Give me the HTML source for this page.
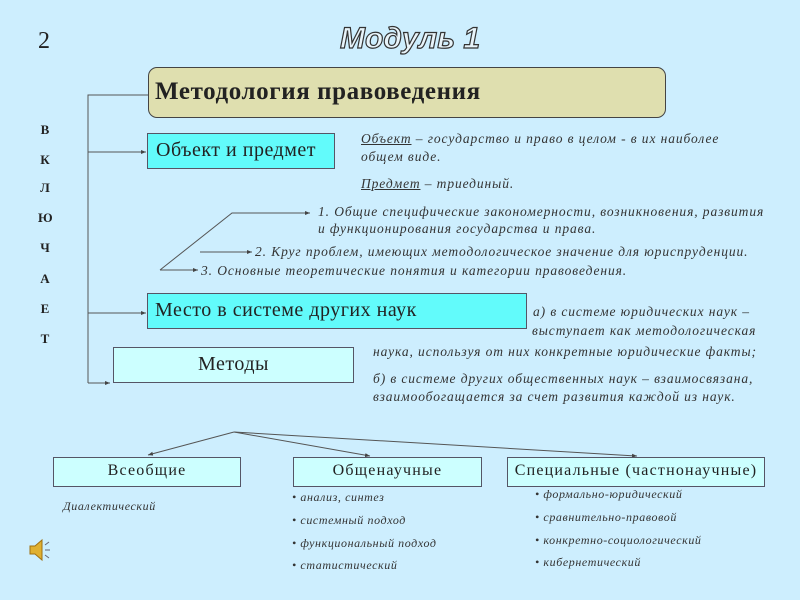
<!DOCTYPE html>
<html><head><meta charset="utf-8"><style>
body{margin:0;width:800px;height:600px;background:#cdeefe;position:relative;overflow:hidden;font-family:"Liberation Serif",serif;color:#222}
.a{position:absolute;white-space:nowrap}
.i{font-style:italic;font-size:13.5px;letter-spacing:0.9px;color:#333}
.s{font-size:12px;letter-spacing:0.6px}
.box{position:absolute;border:1px solid #556;box-sizing:border-box}
.let{position:absolute;left:38px;font-weight:bold;font-size:13px;width:14px;text-align:center}
.h{font-size:20px;letter-spacing:0.5px}
.b{font-size:16px;letter-spacing:1.2px}
</style></head><body>
<div class="a" style="left:38px;top:28px;font-size:24px">2</div>
<div class="a" style="left:340px;top:22px;font-family:'Liberation Sans',sans-serif;font-size:30px;font-weight:bold;font-style:italic;color:#e8f4fa;-webkit-text-stroke:1.2px #333">Модуль 1</div>
<div class="box" style="left:148px;top:67px;width:518px;height:51px;background:#dfdfaf;border-radius:9px;border-color:#444"></div>
<div class="a" style="left:155px;top:78px;font-size:25px;letter-spacing:0.6px;font-weight:bold">Методология правоведения</div>
<svg class="a" style="left:0;top:0" width="800" height="600">
<defs><marker id="m" markerWidth="6" markerHeight="6" refX="5" refY="3" orient="auto"><path d="M0,1 L5,3 L0,5z" fill="#444"/></marker></defs>
<g stroke="#555" stroke-width="1" fill="none">
<path d="M148,95 H88 V383"/>
<path d="M88,152 H146" marker-end="url(#m)"/>
<path d="M88,313 H146" marker-end="url(#m)"/>
<path d="M88,383 H110" marker-end="url(#m)"/>
<path d="M160,270 L232,213 H310" marker-end="url(#m)"/>
<path d="M200,252 H252" marker-end="url(#m)"/>
<path d="M160,270 H198" marker-end="url(#m)"/>
<path d="M234,432 L148,455" marker-end="url(#m)"/>
<path d="M234,432 L370,456" marker-end="url(#m)"/>
<path d="M234,432 L637,456" marker-end="url(#m)"/>
</g></svg>
<div class="let" style="top:122px">В</div><div class="let" style="top:152px">К</div><div class="let" style="top:180px">Л</div><div class="let" style="top:210px">Ю</div><div class="let" style="top:240px">Ч</div><div class="let" style="top:271px">А</div><div class="let" style="top:301px">Е</div><div class="let" style="top:331px">Т</div>
<div class="box" style="left:147px;top:133px;width:188px;height:36px;background:#62fbfb"></div>
<div class="a h" style="left:156px;top:139px">Объект и предмет</div>
<div class="a i" style="left:361px;top:131px"><u>Объект</u> – государство и право в целом - в их наиболее</div>
<div class="a i" style="left:361px;top:149px">общем виде.</div>
<div class="a i" style="left:361px;top:176px"><u>Предмет</u> – триединый.</div>
<div class="a i" style="left:318px;top:204px">1. Общие специфические закономерности, возникновения, развития</div>
<div class="a i" style="left:318px;top:221px">и функционирования государства и права.</div>
<div class="a i" style="left:255px;top:244px">2. Круг проблем, имеющих методологическое значение для юриспруденции.</div>
<div class="a i" style="left:201px;top:263px">3. Основные теоретические понятия и категории правоведения.</div>
<div class="box" style="left:147px;top:293px;width:380px;height:36px;background:#62fbfb"></div>
<div class="a h" style="left:155px;top:299px">Место в системе других наук</div>
<div class="a i" style="left:533px;top:304px">а) в системе юридических наук –</div>
<div class="a i" style="left:532px;top:323px">выступает как методологическая</div>
<div class="a i" style="left:373px;top:344px">наука, используя от них конкретные юридические факты;</div>
<div class="a i" style="left:373px;top:371px">б) в системе других общественных наук – взаимосвязана,</div>
<div class="a i" style="left:373px;top:389px">взаимообогащается за счет развития каждой из наук.</div>
<div class="box" style="left:113px;top:347px;width:241px;height:36px;background:#ccffff"></div>
<div class="a h" style="left:113px;top:353px;width:241px;text-align:center">Методы</div>
<div class="box" style="left:53px;top:457px;width:188px;height:30px;background:#ccffff"></div>
<div class="a b" style="left:53px;top:462px;width:188px;text-align:center">Всеобщие</div>
<div class="box" style="left:293px;top:457px;width:189px;height:30px;background:#ccffff"></div>
<div class="a b" style="left:293px;top:462px;width:189px;text-align:center">Общенаучные</div>
<div class="box" style="left:507px;top:457px;width:258px;height:30px;background:#ccffff"></div>
<div class="a b" style="left:507px;top:462px;width:258px;text-align:center">Специальные (частнонаучные)</div>
<div class="a i s" style="left:63px;top:499px">Диалектический</div>
<div class="a i s" style="left:292px;top:490px">• анализ, синтез</div>
<div class="a i s" style="left:292px;top:513px">• системный подход</div>
<div class="a i s" style="left:292px;top:536px">• функциональный подход</div>
<div class="a i s" style="left:292px;top:558px">• статистический</div>
<div class="a i s" style="left:535px;top:487px">• формально-юридический</div>
<div class="a i s" style="left:535px;top:510px">• сравнительно-правовой</div>
<div class="a i s" style="left:535px;top:533px">• конкретно-социологический</div>
<div class="a i s" style="left:535px;top:555px">• кибернетический</div>
<svg class="a" style="left:28px;top:538px" width="26" height="24"><path d="M2,8 H7 L14,2 V22 L7,16 H2z" fill="#e0b030" stroke="#a07010"/><g stroke="#667" stroke-width="1"><path d="M17,12 H22 M17,7 L21,4 M17,17 L21,20"/></g></svg>
</body></html>
